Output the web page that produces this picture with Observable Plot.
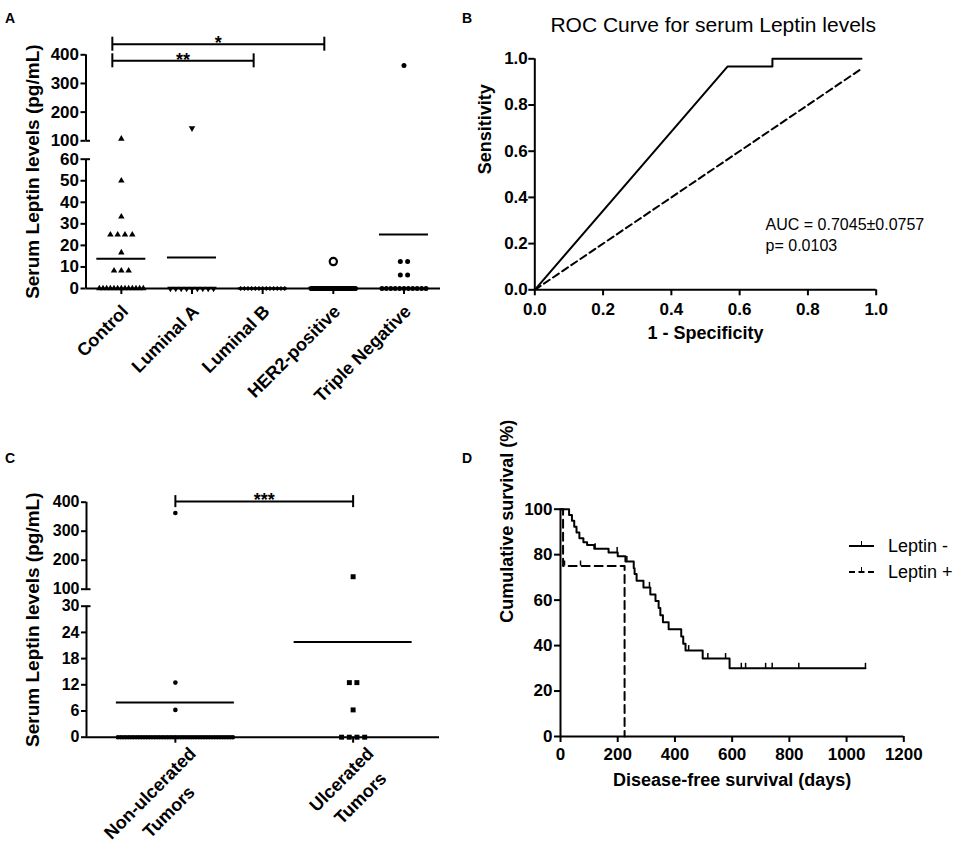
<!DOCTYPE html>
<html>
<head>
<meta charset="utf-8">
<script src="https://cdn.jsdelivr.net/npm/d3@7"></script>
<script src="https://cdn.jsdelivr.net/npm/@observablehq/plot@0.6"></script>
<style>
  body { margin: 0; background: #fff; }
  #fig { position: relative; width: 957px; height: 844px; background: #fff; color: #000;
         font-family: 'Liberation Sans', Arial, Helvetica, sans-serif; overflow: hidden; }
  .panel { position: absolute; }
  .letter { position: absolute; font-weight: bold; font-size: 14px; line-height: 14px; }
  .lgrow { position: absolute; display: flex; align-items: center; height: 20px; font-size: 18px; }
  .lgsym { position: relative; width: 25px; height: 0; margin-right: 14px; }
  .lgtick { position: absolute; left: 12px; top: -6px; width: 0; height: 5px; border-left: 1.5px solid #000; }
</style>
</head>
<body>
<div id="fig">
  <div class="panel" id="pA" style="left:0;top:0;width:470px;height:420px"></div>
  <div class="panel" id="pB" style="left:470px;top:0;width:487px;height:420px"></div>
  <div class="panel" id="pC" style="left:0;top:420px;width:470px;height:424px"></div>
  <div class="panel" id="pD" style="left:470px;top:420px;width:487px;height:424px"></div>
  <div class="letter" style="left:5px;top:11px">A</div>
  <div class="letter" style="left:462px;top:11px">B</div>
  <div class="letter" style="left:5px;top:451px">C</div>
  <div class="letter" style="left:462px;top:451px">D</div>
</div>
<script>
// ---------------- Panel A data ----------------
const aCategories = ["Control", "Luminal A", "Luminal B", "HER2-positive", "Triple Negative"];
const controlValues = [107, 50, 33.3, 25, 25, 25, 25, 16.7, 8.3, 8.3, 8.3, 0, 0, 0, 0, 0, 0, 0, 0, 0, 0, 0, 0, 0];
const luminalAValues = [144, 0, 0, 0, 0, 0, 0, 0, 0, 0];
const luminalBValues = [0, 0, 0, 0, 0, 0, 0, 0, 0, 0, 0, 0, 0];
const her2Values = [12.5, 0, 0, 0, 0, 0, 0, 0, 0, 0, 0, 0, 0, 0, 0, 0, 0, 0, 0, 0, 0, 0, 0, 0, 0, 0, 0, 0, 0, 0, 0];
const tripleNegValues = [363, 12.5, 12.5, 6.25, 6.25, 0, 0, 0, 0, 0, 0, 0, 0, 0, 0, 0];
const aYTicks = [0, 10, 20, 30, 40, 50, 60, 100, 200, 300, 400];
const aBreak = [60, 100];
const aSigFrom = ["Control", "Control"];
const aSigTo = ["HER2-positive", "Luminal B"];
const aSigLabel = ["*", "**"];
const aSigLevel = [437, 379];
const aYLabel = "Serum Leptin levels (pg/mL)";

// ---------------- Panel B data ----------------
const rocTitle = "ROC Curve for serum Leptin levels";
const rocFpr = [0, 0.565, 0.696, 0.696, 0.957];
const rocTpr = [0, 0.967, 0.967, 1.0, 1.0];
const rocReference = [0, 0.957];
const rocTicks = [0, 0.2, 0.4, 0.6, 0.8, 1.0];
const rocNote = ["AUC = 0.7045±0.0757", "p= 0.0103"];
const rocNoteX = 0.676;
const rocNoteY = [0.283, 0.192];

// ---------------- Panel C data ----------------
const cCategories = [["Non-ulcerated", "Tumors"], ["Ulcerated", "Tumors"]];
const nonUlceratedValues = [363, 12.5, 6.25,
  0, 0, 0, 0, 0, 0, 0, 0, 0, 0, 0, 0, 0, 0, 0, 0, 0, 0, 0, 0, 0, 0, 0, 0,
  0, 0, 0, 0, 0, 0, 0, 0, 0, 0, 0, 0, 0, 0, 0, 0, 0, 0, 0, 0, 0];
const ulceratedValues = [143, 12.5, 12.5, 6.25, 0, 0, 0, 0];
const cYTicks = [0, 6, 12, 18, 24, 30, 100, 200, 300, 400];
const cBreak = [30, 100];
const cSigLabel = ["***"];
const cSigLevel = [402];

// ---------------- Panel D data ----------------
const dSeries = ["Leptin -", "Leptin +"];
const negDays = [0, 30, 40, 48, 56, 66, 80, 93, 118, 168, 200, 227, 256, 259, 266, 290, 314, 332, 343, 349, 358, 378, 422, 429, 437, 497, 591, 1066];
const negSurv = [100, 97.4, 94.9, 92.3, 89.7, 87.2, 85.5, 84.2, 82.6, 81.0, 79.3, 77.0, 74.0, 71.5, 68.5, 65.6, 62.5, 59.6, 56.5, 53.3, 50.3, 47.2, 44.0, 40.8, 37.8, 34.3, 30.0, 30.0];
const negCensor = [121, 198, 232, 311, 448, 515, 577, 632, 647, 717, 740, 833, 1066];
const posDays = [0, 9, 224];
const posSurv = [100, 75, 0];
const posCensor = [14, 70];
const dXTicks = [0, 200, 400, 600, 800, 1000, 1200];
const dYTicks = [0, 20, 40, 60, 80, 100];

// ---------------- helpers ----------------
const FONT = "'Liberation Sans', Arial, Helvetica, sans-serif";
const svgStyle = {fontFamily: FONT, color: "#000", background: "transparent", overflow: "visible"};
const tickFont = {fontSize: 17, fontWeight: "bold"};
const tickFontC = {fontSize: 16, fontWeight: "bold"};

// broken-axis scale transform: [0, lowMax] and [highMin, top] get their own lengths, with a small gap
function brokenAxis(lowMax, highMin, top, pxLow, pxGap, pxHigh) {
  const fwd = v => v <= lowMax ? v * pxLow / lowMax
    : v < highMin ? pxLow + (v - lowMax) / (highMin - lowMax) * pxGap
    : pxLow + pxGap + (v - highMin) * pxHigh / (top - highMin);
  const inv = p => p <= pxLow ? p * lowMax / pxLow
    : p < pxLow + pxGap ? lowMax + (p - pxLow) / pxGap * (highMin - lowMax)
    : highMin + (p - pxLow - pxGap) * (top - highMin) / pxHigh;
  return {fwd, inv};
}

// spread points that share a value side by side (column scatter)
function swarm(values, gi, o) {
  const counts = d3.rollup(values, v => v.length, d => d);
  const seen = new Map();
  return values.map(v => {
    const k = counts.get(v);
    const j = seen.get(v) || 0;
    seen.set(v, j + 1);
    const s = k > 1 ? (v === 0 ? Math.min(o.zeroMax, o.zeroWidth / (k - 1)) : o.dup) : 0;
    return {gi, value: v, x: gi + (j - (k - 1) / 2) * s / o.step};
  });
}

const ctx = document.createElement("canvas").getContext("2d");
ctx.font = "bold 18px 'Liberation Sans'";
const textWidth = s => ctx.measureText(s).width;
const sigFont = {fontSize: 18, fontWeight: "bold"};

// ---------------- Panel A ----------------
{
  const groups = [controlValues, luminalAValues, luminalBValues, her2Values, tripleNegValues];
  const xRange = [85.5, 438.8];
  const step = (xRange[1] - xRange[0]) / aCategories.length;
  const top = aYTicks[aYTicks.length - 1];
  const brk = brokenAxis(aBreak[0], aBreak[1], top, 129.3, 18.4, 86);
  const pts = groups.map((vals, gi) => swarm(vals, gi, {zeroWidth: 44, zeroMax: 5.4, dup: 7.3, step}));
  const means = groups.map((vals, gi) => ({gi, m: d3.mean(vals)}));
  const half = 24.5 / step;
  const sig = aSigFrom.map((f, k) => ({i1: aCategories.indexOf(f), i2: aCategories.indexOf(aSigTo[k]), level: aSigLevel[k], label: aSigLabel[k]}));
  const ends = sig.flatMap(d => [{x: d.i1, level: d.level}, {x: d.i2, level: d.level}]);
  const segs = [[0, aBreak[0]], [aBreak[1], top]];
  const dot = {x: "x", y: "value", fill: "black", stroke: "none"};
  const yTitle = [{label: aYLabel, y: brk.inv(brk.fwd(top) / 2)}];

  const chart = Plot.plot({
    width: 470, height: 420,
    marginLeft: 85.5, marginRight: 30, marginTop: 54.3, marginBottom: 132,
    style: svgStyle,
    x: {domain: [-0.5, aCategories.length - 0.5], range: xRange},
    y: {type: "linear", transform: brk.fwd, domain: [brk.fwd(0), brk.fwd(top)]},
    marks: [
      Plot.ruleX(segs, {x: () => -0.5, y1: d => d[0], y2: d => d[1], strokeWidth: 2}),
      Plot.ruleY(aBreak, {x1: -0.5, x2: -0.5, insetRight: -4.5, strokeWidth: 2}),
      Plot.axisY(aYTicks, {tickFormat: d3.format("d"), tickSize: 5, tickPadding: 2, strokeWidth: 2, label: null, ...tickFont}),
      Plot.ruleY([0], {strokeWidth: 2}),
      Plot.axisX(d3.range(aCategories.length), {tickSize: 6, strokeWidth: 2, fill: "none", label: null}),
      Plot.text(aCategories, {x: (d, i) => i, text: d => d, frameAnchor: "bottom", dx: 4, dy: 20,
        rotate: -45, textAnchor: "end", lineAnchor: "middle", fontSize: 18, fontWeight: "bold"}),
      Plot.text(yTitle, {x: () => -0.5, y: "y", text: "label", dx: -53.5, rotate: -90, lineAnchor: "middle", fontSize: 19, fontWeight: "bold"}),
      Plot.ruleY(means, {y: "m", x1: d => d.gi - half, x2: d => d.gi + half, strokeWidth: 2}),
      Plot.dot(pts[0], {...dot, symbol: "triangle", r: 2.4}),
      Plot.dot(pts[1], {...dot, symbol: "triangle", r: 2.4, rotate: 180}),
      Plot.dot(pts[2], {...dot, symbol: "diamond2", r: 2.3}),
      Plot.dot(pts[3].filter(d => d.value === 0), {...dot, symbol: "circle", r: 2.6}),
      Plot.dot(pts[3].filter(d => d.value > 0), {x: "x", y: "value", r: 3.6, fill: "white", stroke: "black", strokeWidth: 2.2}),
      Plot.dot(pts[4], {...dot, symbol: "circle", r: 2.5}),
      Plot.link(sig, {x1: "i1", x2: "i2", y1: "level", y2: "level", dx: -9, strokeWidth: 2}),
      Plot.ruleX(ends, {x: "x", y1: "level", y2: "level", insetTop: -7, insetBottom: -7, dx: -9, strokeWidth: 2}),
      Plot.text(sig, {x: d => (d.i1 + d.i2) / 2, y: "level", text: "label", dx: -9, dy: -1, lineAnchor: "middle", ...sigFont})
    ]
  });
  document.getElementById("pA").append(chart);
}

// ---------------- Panel B ----------------
{
  const roc = rocFpr.map((x, i) => ({x, y: rocTpr[i]}));
  const ref = rocReference.map(v => ({x: v, y: v}));
  const notes = rocNote.map((t, i) => ({t, y: rocNoteY[i]}));
  const fmt = d3.format(".1f");
  const chart = Plot.plot({
    width: 487, height: 420,
    marginLeft: 64.3, marginRight: 81.3, marginTop: 58.3, marginBottom: 130.7,
    style: svgStyle,
    x: {domain: [0, 1]},
    y: {domain: [0, 1]},
    marks: [
      Plot.ruleX([0], {strokeWidth: 2}),
      Plot.ruleY([0], {strokeWidth: 2}),
      Plot.axisY(rocTicks, {tickFormat: fmt, tickSize: 6, tickPadding: 1, strokeWidth: 2, label: null, ...tickFont}),
      Plot.axisX(rocTicks, {tickFormat: fmt, tickSize: 6, tickPadding: 7, strokeWidth: 2, label: null, ...tickFont}),
      Plot.line(ref, {x: "x", y: "y", strokeWidth: 2, strokeDasharray: "7,4"}),
      Plot.line(roc, {x: "x", y: "y", strokeWidth: 2}),
      Plot.text(notes, {x: () => rocNoteX, y: "y", text: "t", textAnchor: "start", lineAnchor: "middle", fontSize: 16}),
      Plot.text([rocTitle], {text: d => d, frameAnchor: "top", lineAnchor: "middle", dx: 7.7, dy: -33.3, fontSize: 21}),
      Plot.text(["Sensitivity"], {text: d => d, frameAnchor: "left", lineAnchor: "middle", dx: -49.3, rotate: -90, fontSize: 18, fontWeight: "bold"}),
      Plot.text(["1 - Specificity"], {text: d => d, frameAnchor: "bottom", lineAnchor: "middle", dy: 43.7, fontSize: 18, fontWeight: "bold"})
    ]
  });
  document.getElementById("pB").append(chart);
}

// ---------------- Panel C ----------------
{
  const groups = [nonUlceratedValues, ulceratedValues];
  const xRange = [86, 441.5];
  const step = (xRange[1] - xRange[0]) / groups.length;
  const top = cYTicks[cYTicks.length - 1];
  const brk = brokenAxis(cBreak[0], cBreak[1], top, 131, 17, 87);
  const pts = groups.map((vals, gi) => swarm(vals, gi, {zeroWidth: 115, zeroMax: 7.7, dup: 7.5, step}));
  const means = groups.map((vals, gi) => ({gi, m: d3.mean(vals)}));
  const half = 59 / step;
  const sig = cSigLabel.map((label, k) => ({i1: 0, i2: 1, level: cSigLevel[k], label}));
  const ends = sig.flatMap(d => [{x: d.i1, level: d.level}, {x: d.i2, level: d.level}]);
  const segs = [[0, cBreak[0]], [cBreak[1], top]];
  const dot = {x: "x", y: "value", fill: "black", stroke: "none"};
  const yTitle = [{label: aYLabel, y: brk.inv(brk.fwd(top) / 2)}];

  // two-line rotated category labels, each line centred
  const lh = 26.5, along = 3, across = 22, c = Math.SQRT1_2;
  const labelMarks = cCategories.flatMap((lines, i) => {
    const L1 = textWidth(lines[0]);
    const a1 = along - L1 / 2;
    const dx1 = c * (a1 + across), dy1 = c * (across - a1);
    return lines.map((line, k) => Plot.text([line], {
      x: () => i, text: d => d, frameAnchor: "bottom",
      dx: dx1 + k * lh * c, dy: dy1 + k * lh * c,
      rotate: -45, textAnchor: "middle", lineAnchor: "middle", fontSize: 18, fontWeight: "bold"
    }));
  });

  const chart = Plot.plot({
    width: 470, height: 424,
    marginLeft: 86, marginRight: 31, marginTop: 81.7, marginBottom: 107.3,
    style: svgStyle,
    x: {domain: [-0.5, groups.length - 0.5], range: xRange},
    y: {type: "linear", transform: brk.fwd, domain: [brk.fwd(0), brk.fwd(top)]},
    marks: [
      Plot.ruleX(segs, {x: () => -0.5, y1: d => d[0], y2: d => d[1], strokeWidth: 2}),
      Plot.ruleY(cBreak, {x1: -0.5, x2: -0.5, insetRight: -4.5, strokeWidth: 2}),
      Plot.axisY(cYTicks, {tickFormat: d3.format("d"), tickSize: 5, tickPadding: 2, strokeWidth: 2, label: null, ...tickFontC}),
      Plot.ruleY([0], {strokeWidth: 2}),
      Plot.axisX(d3.range(groups.length), {tickSize: 6, strokeWidth: 2, fill: "none", label: null}),
      ...labelMarks,
      Plot.text(yTitle, {x: () => -0.5, y: "y", text: "label", dx: -53.5, rotate: -90, lineAnchor: "middle", fontSize: 19, fontWeight: "bold"}),
      Plot.ruleY(means, {y: "m", x1: d => d.gi - half, x2: d => d.gi + half, strokeWidth: 2}),
      Plot.dot(pts[0], {...dot, symbol: "circle", r: 2.3}),
      Plot.dot(pts[1], {...dot, symbol: "square", r: 2.8}),
      Plot.link(sig, {x1: "i1", x2: "i2", y1: "level", y2: "level", strokeWidth: 2}),
      Plot.ruleX(ends, {x: "x", y1: "level", y2: "level", insetTop: -6, insetBottom: -6, strokeWidth: 2}),
      Plot.text(sig, {x: d => (d.i1 + d.i2) / 2, y: "level", text: "label", dy: -1, lineAnchor: "middle", ...sigFont})
    ]
  });
  document.getElementById("pC").append(chart);
}

// ---------------- Panel D ----------------
{
  const neg = negDays.map((t, i) => ({t, s: negSurv[i]}));
  const pos = posDays.map((t, i) => ({t, s: posSurv[i]}));
  const survAt = (days, surv, t) => surv[d3.bisectRight(days, t) - 1];
  const censors = [
    ...negCensor.map(t => ({t, s: survAt(negDays, negSurv, t)})),
    ...posCensor.map(t => ({t, s: survAt(posDays, posSurv, t)}))
  ];
  const chart = Plot.plot({
    width: 487, height: 424,
    marginLeft: 90, marginRight: 53.7, marginTop: 88.7, marginBottom: 108,
    style: svgStyle,
    x: {domain: [0, 1200]},
    y: {domain: [0, 100]},
    marks: [
      Plot.ruleX([0], {strokeWidth: 2}),
      Plot.ruleY([0], {strokeWidth: 2}),
      Plot.axisY(dYTicks, {tickFormat: d3.format("d"), tickSize: 6, tickPadding: 2, strokeWidth: 2, label: null, ...tickFont}),
      Plot.axisX(dXTicks, {tickFormat: d3.format("d"), tickSize: 6, tickPadding: 5, strokeWidth: 2, label: null, ...tickFont}),
      Plot.line(pos, {x: "t", y: "s", curve: "step-after", strokeWidth: 2, strokeDasharray: "8,5"}),
      Plot.line(neg, {x: "t", y: "s", curve: "step-after", strokeWidth: 2}),
      Plot.ruleX(censors, {x: "t", y1: "s", y2: "s", insetTop: -5, strokeWidth: 1.5}),
      Plot.text(["Cumulative survival (%)"], {text: d => d, frameAnchor: "left", lineAnchor: "middle", dx: -53.3, rotate: -90, fontSize: 18, fontWeight: "bold"}),
      Plot.text(["Disease-free survival (days)"], {text: d => d, frameAnchor: "bottom", lineAnchor: "middle", dy: 44, fontSize: 18, fontWeight: "bold"})
    ]
  });
  document.getElementById("pD").append(chart);

  // legend
  const fig = document.getElementById("fig");
  const rowTops = [536, 562];
  dSeries.forEach((name, i) => {
    const row = document.createElement("div");
    row.className = "lgrow";
    row.style.left = "849px";
    row.style.top = rowTops[i] + "px";
    const sym = document.createElement("div");
    sym.className = "lgsym";
    sym.style.borderTop = "2px " + (i === 0 ? "solid" : "dashed") + " #000";
    const tk = document.createElement("div");
    tk.className = "lgtick";
    sym.append(tk);
    const lab = document.createElement("span");
    lab.textContent = name;
    row.append(sym, lab);
    fig.append(row);
  });
}
</script>
</body>
</html>
